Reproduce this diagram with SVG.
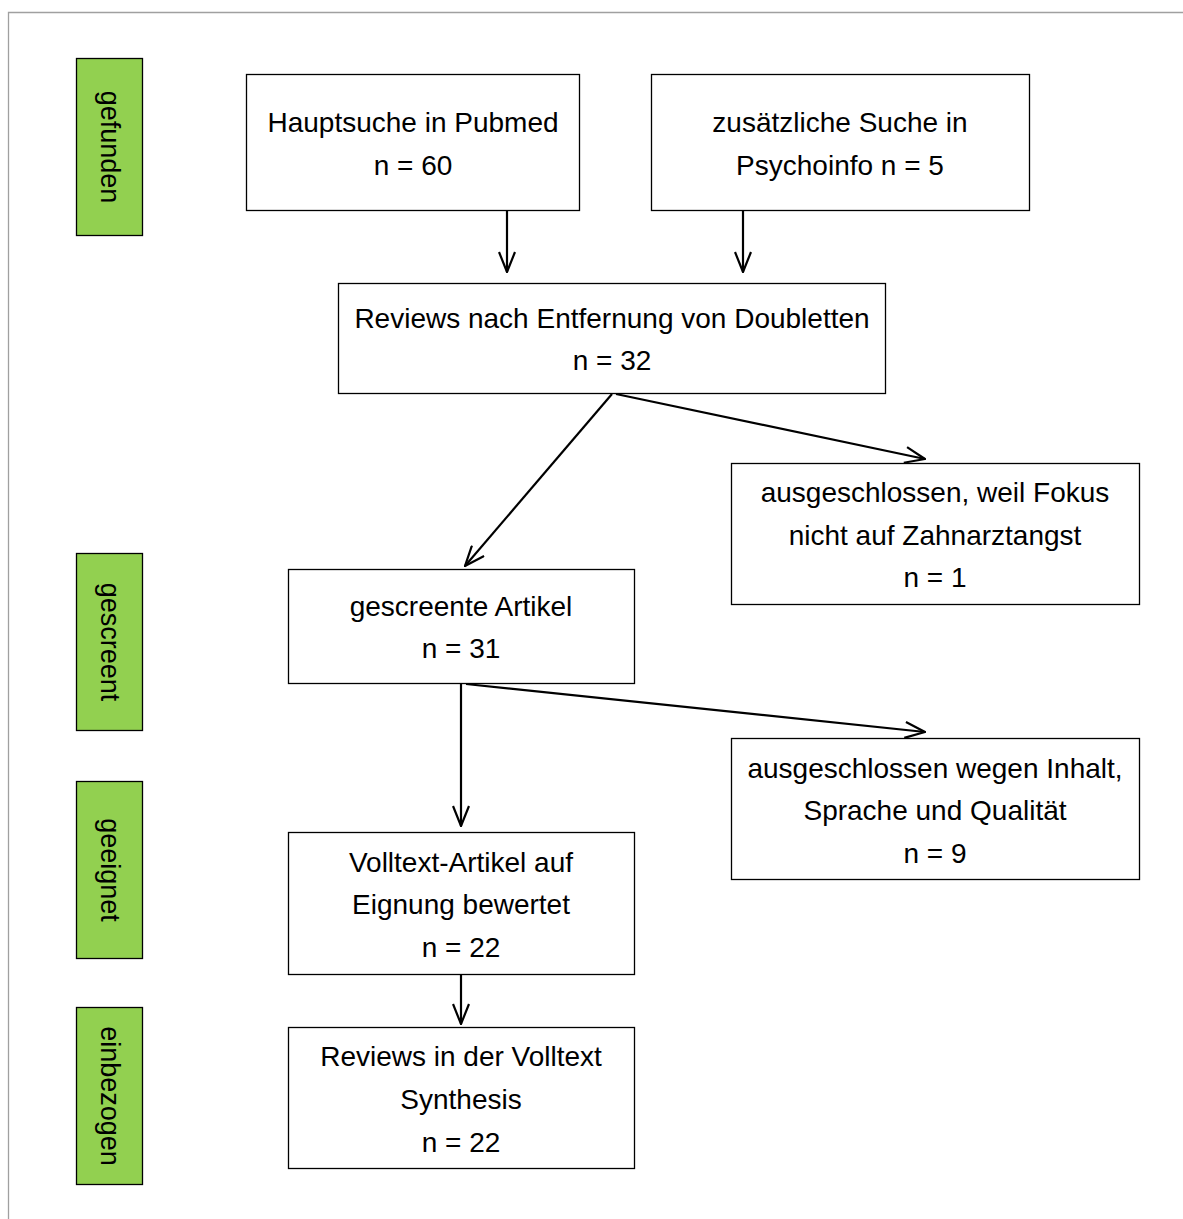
<svg xmlns="http://www.w3.org/2000/svg" width="1183" height="1219" viewBox="0 0 1183 1219">
<defs>
<style>
.box{fill:#fff;stroke:#000;stroke-width:1.3}
.tag{fill:#92D050;stroke:#000;stroke-width:1.3}
.t{font-family:"Liberation Sans",Arial,sans-serif;font-size:28px;fill:#000;text-anchor:middle}
.v{font-family:"Liberation Sans",Arial,sans-serif;font-size:27px;fill:#000;text-anchor:middle;dominant-baseline:central}
.c{stroke:#000;stroke-width:2.2;fill:none;marker-end:url(#ah)}
</style>
<marker id="ah" viewBox="0 0 22 18" refX="21" refY="9" markerWidth="22" markerHeight="18" markerUnits="userSpaceOnUse" orient="auto">
<path d="M1,1 L21,9 L1,17" fill="none" stroke="#000" stroke-width="2.2"/>
</marker>
</defs>
<rect width="1183" height="1219" fill="#fff"/>
<path d="M8.5,1219 V12.5 H1183" fill="none" stroke="#a0a0a0" stroke-width="1.3"/>

<g id="tag-gefunden"><rect class="tag" x="76.5" y="58.5" width="66" height="177"/><text class="v" transform="translate(109.5,147) rotate(90)">gefunden</text></g>
<g id="tag-gescreent"><rect class="tag" x="76.5" y="553.5" width="66" height="177"/><text class="v" transform="translate(109.5,642) rotate(90)">gescreent</text></g>
<g id="tag-geeignet"><rect class="tag" x="76.5" y="781.5" width="66" height="177"/><text class="v" transform="translate(109.5,870) rotate(90)">geeignet</text></g>
<g id="tag-einbezogen"><rect class="tag" x="76.5" y="1007.5" width="66" height="177"/><text class="v" transform="translate(109.5,1096) rotate(90)">einbezogen</text></g>

<g id="n-pubmed"><rect class="box" x="246.5" y="74.5" width="333" height="136"/><text class="t" x="413" y="132">Hauptsuche in Pubmed</text><text class="t" x="413" y="175">n = 60</text></g>
<g id="n-psycho"><rect class="box" x="651.5" y="74.5" width="378" height="136"/><text class="t" x="840" y="132">zusätzliche Suche in</text><text class="t" x="840" y="175">Psychoinfo n = 5</text></g>
<g id="n-doubl"><rect class="box" x="338.5" y="283.5" width="547" height="110"/><text class="t" x="612" y="328">Reviews nach Entfernung von Doubletten</text><text class="t" x="612" y="370">n = 32</text></g>
<g id="n-aus1"><rect class="box" x="731.5" y="463.5" width="408" height="141"/><text class="t" x="935" y="502">ausgeschlossen, weil Fokus</text><text class="t" x="935" y="545">nicht auf Zahnarztangst</text><text class="t" x="935" y="587">n = 1</text></g>
<g id="n-screen"><rect class="box" x="288.5" y="569.5" width="346" height="114"/><text class="t" x="461" y="616">gescreente Artikel</text><text class="t" x="461" y="658">n = 31</text></g>
<g id="n-aus2"><rect class="box" x="731.5" y="738.5" width="408" height="141"/><text class="t" x="935" y="778">ausgeschlossen wegen Inhalt,</text><text class="t" x="935" y="820">Sprache und Qualität</text><text class="t" x="935" y="863">n = 9</text></g>
<g id="n-voll"><rect class="box" x="288.5" y="832.5" width="346" height="142"/><text class="t" x="461" y="872">Volltext-Artikel auf</text><text class="t" x="461" y="914">Eignung bewertet</text><text class="t" x="461" y="957">n = 22</text></g>
<g id="n-synth"><rect class="box" x="288.5" y="1027.5" width="346" height="141"/><text class="t" x="461" y="1066">Reviews in der Volltext</text><text class="t" x="461" y="1109">Synthesis</text><text class="t" x="461" y="1152">n = 22</text></g>

<g id="connectors">
<path class="c" d="M507,211 V272"/>
<path class="c" d="M743,211 V272"/>
<path class="c" d="M612,394 L465,566"/>
<path class="c" d="M616,394 L925,459"/>
<path class="c" d="M461,684 V826"/>
<path class="c" d="M466,684 L925,732"/>
<path class="c" d="M461,975 V1024"/>
</g>
</svg>
